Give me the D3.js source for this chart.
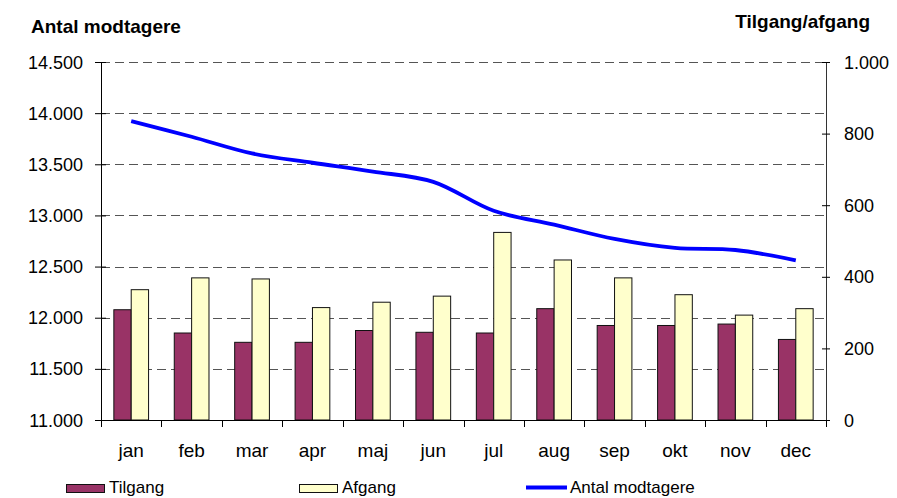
<!DOCTYPE html>
<html>
<head>
<meta charset="utf-8">
<script src="https://cdn.jsdelivr.net/npm/d3@7"></script>
<style>
  html, body { margin: 0; padding: 0; background: #fff; overflow: hidden; }
  svg { display: block; font-family: "Liberation Sans", Arial, sans-serif; }
</style>
</head>
<body>
<svg id="chart"></svg>
<script>
// data
const months = ['jan', 'feb', 'mar', 'apr', 'maj', 'jun', 'jul', 'aug', 'sep', 'okt', 'nov', 'dec'];
const tilgang = [308, 243, 217, 217, 250, 245, 243, 311, 264, 264, 268, 225];
const afgang = [364, 397, 394, 314, 329, 346, 524, 447, 397, 350, 293, 311];
const modtagere = [13922, 13769, 13606, 13515, 13429, 13328, 13045, 12910, 12770, 12682, 12662, 12561];
const leftTicks = [11000, 11500, 12000, 12500, 13000, 13500, 14000, 14500];
const rightTicks = [0, 200, 400, 600, 800, 1000];
const series = ['Tilgang', 'Afgang'];

const w = 897;
const h = 498;
const colors = {Tilgang: '#993366', Afgang: '#ffffcc'};

const svg = d3.select('#chart')
    .attr('width', w)
    .attr('height', h);

const margin = {top: 62, left: 101};
const innerWidth = 725;
const innerHeight = 358;

const fmt = d3.formatLocale({decimal: ',', thousands: '.', grouping: [3], currency: ['', '']}).format(',d');

const g = svg.append('g')
    .attr('transform', `translate(${margin.left}, ${margin.top})`);

const x0 = d3.scaleBand()
    .domain(months)
    .range([0, innerWidth]);
const x1 = d3.scaleBand()
    .domain(series)
    .range([0, x0.bandwidth()])
    .paddingOuter(0.74);
const yL = d3.scaleLinear()
    .domain([11000, 14500])
    .range([innerHeight, 0]);
const yR = d3.scaleLinear()
    .domain([0, 1000])
    .range([innerHeight, 0]);

// dashed gridlines
g.append('g').selectAll('line')
    .data(leftTicks.filter(d => d > 11000))
    .enter().append('line')
        .attr('x1', 0)
        .attr('x2', innerWidth)
        .attr('y1', d => Math.round(yL(d)) + 0.5)
        .attr('y2', d => Math.round(yL(d)) + 0.5)
        .attr('stroke', '#555')
        .attr('stroke-dasharray', '9,5');

// bars
const rows = months.map((m, i) => ({m: m, Tilgang: tilgang[i], Afgang: afgang[i]}));
g.append('g').selectAll('g')
    .data(rows)
    .enter().append('g')
        .attr('transform', d => `translate(${x0(d.m)},0)`)
    .selectAll('rect')
    .data(d => series.map(s => ({key: s, value: d[s]})))
    .enter().append('rect')
        .attr('x', d => x1(d.key))
        .attr('y', d => yR(d.value))
        .attr('width', x1.bandwidth())
        .attr('height', d => innerHeight - yR(d.value))
        .attr('fill', d => colors[d.key])
        .attr('stroke', '#111')
        .attr('stroke-width', 1);

// axes (lines and ticks; labels are placed below in page coordinates)
const yAxisG = g.append('g')
    .call(d3.axisLeft(yL).tickValues(leftTicks).tickFormat('').tickSizeOuter(0));
yAxisG.select('.domain').attr('stroke', '#000');
yAxisG.selectAll('.tick line').attr('x1', -6).attr('x2', 5);
yAxisG.selectAll('.tick text').remove();

const yAxisR = g.append('g')
    .attr('transform', `translate(${innerWidth},0)`)
    .call(d3.axisRight(yR).tickValues(rightTicks).tickFormat('').tickSizeOuter(0));
yAxisR.select('.domain').attr('stroke', '#333');
yAxisR.selectAll('.tick line').attr('x1', -4).attr('x2', 4);
yAxisR.selectAll('.tick text').remove();

const xAxisG = g.append('g')
    .attr('transform', `translate(0,${innerHeight})`)
    .call(d3.axisBottom(x0).tickSize(0).tickFormat('').tickSizeOuter(0));
xAxisG.select('.domain').attr('stroke', '#000');
xAxisG.selectAll('.tick').remove();
xAxisG.append('g').selectAll('line')
    .data(months.concat(['end']))
    .enter().append('line')
        .attr('x1', (d, i) => Math.round(i * x0.step()) + 0.5)
        .attr('x2', (d, i) => Math.round(i * x0.step()) + 0.5)
        .attr('y1', 0.5)
        .attr('y2', 7)
        .attr('stroke', '#000');

// tick labels
svg.append('g').selectAll('text')
    .data(leftTicks)
    .enter().append('text')
        .attr('x', margin.left - 18)
        .attr('y', d => margin.top + yL(d) + 6.5)
        .attr('text-anchor', 'end')
        .attr('font-size', 18)
        .text(fmt);
svg.append('g').selectAll('text')
    .data(rightTicks)
    .enter().append('text')
        .attr('x', margin.left + innerWidth + 18)
        .attr('y', d => margin.top + yR(d) + 6.5)
        .attr('font-size', 18)
        .text(fmt);
svg.append('g').selectAll('text')
    .data(months)
    .enter().append('text')
        .attr('x', d => margin.left + x0(d) + x0.bandwidth() / 2)
        .attr('y', margin.top + innerHeight + 37)
        .attr('text-anchor', 'middle')
        .attr('font-size', 19)
        .text(d => d);

// line
const line = d3.line()
    .x((d, i) => x0(months[i]) + x0.bandwidth() / 2)
    .y(d => yL(d))
    .curve(d3.curveCatmullRom);
g.append('path')
    .datum(modtagere)
    .attr('d', line)
    .attr('fill', 'none')
    .attr('stroke', '#0000ff')
    .attr('stroke-width', 3.8);

// titles
svg.append('text')
    .attr('x', 31)
    .attr('y', 32.5)
    .attr('font-size', 19)
    .attr('font-weight', 'bold')
    .text('Antal modtagere');
svg.append('text')
    .attr('x', 870)
    .attr('y', 27.5)
    .attr('text-anchor', 'end')
    .attr('font-size', 19)
    .attr('font-weight', 'bold')
    .text('Tilgang/afgang');

// legend
const legend = svg.append('g');
const legItems = [
    {name: 'Tilgang', x: 66, type: 'rect'},
    {name: 'Afgang', x: 299, type: 'rect'},
    {name: 'Antal modtagere', x: 526, type: 'line'}
];
legItems.forEach(d => {
    if (d.type === 'rect') {
        legend.append('rect')
            .attr('x', d.x + 0.5)
            .attr('y', 484.5)
            .attr('width', 38)
            .attr('height', 8)
            .attr('fill', colors[d.name])
            .attr('stroke', '#111');
    } else {
        legend.append('line')
            .attr('x1', d.x)
            .attr('x2', d.x + 41)
            .attr('y1', 487.5)
            .attr('y2', 487.5)
            .attr('stroke', '#0000ff')
            .attr('stroke-width', 3.8);
    }
    legend.append('text')
        .attr('x', d.x + (d.type === 'rect' ? 43 : 44))
        .attr('y', 493)
        .attr('font-size', 17)
        .text(d.name);
});
</script>
</body>
</html>
